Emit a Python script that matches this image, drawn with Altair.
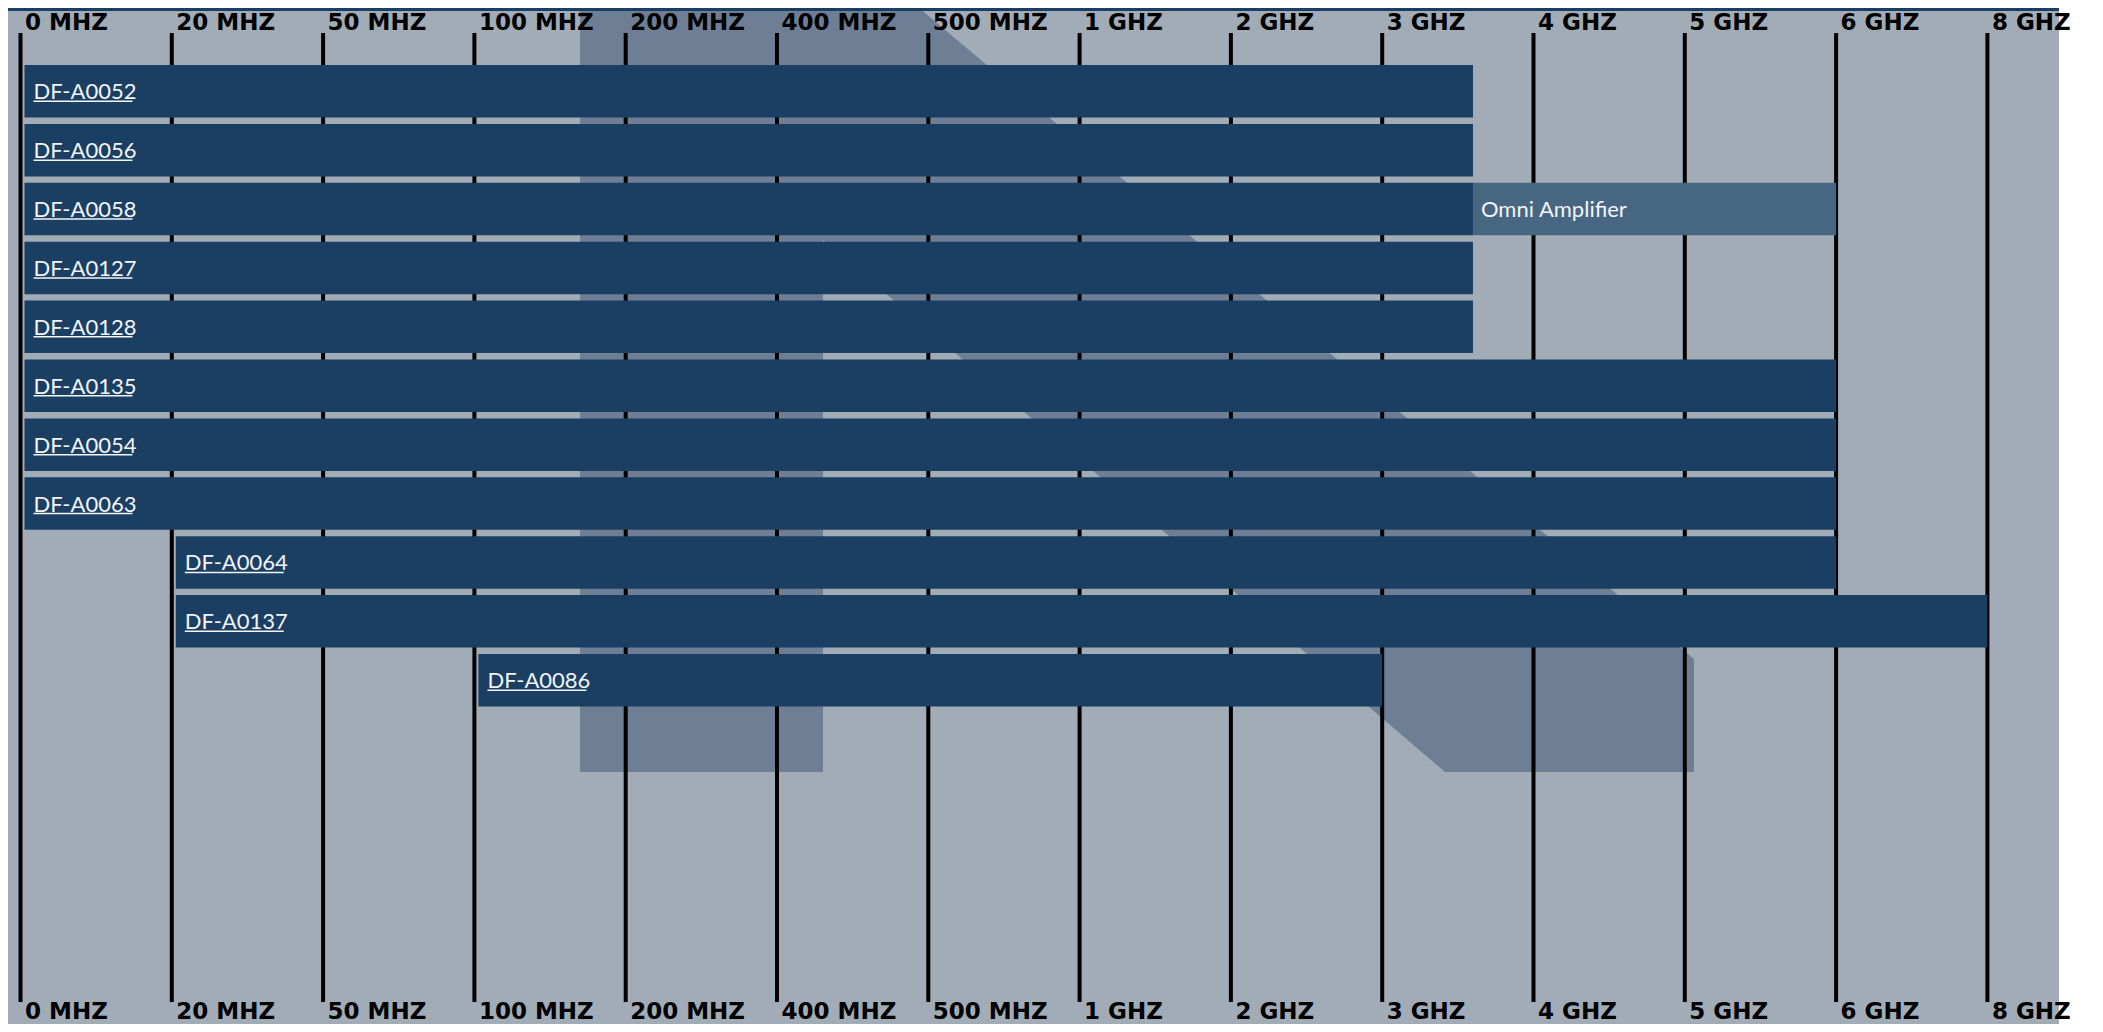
import altair as alt
import pandas as pd

# ---------------- data ----------------
FREQ_TICKS_MHZ = [0, 20, 50, 100, 200, 400, 500, 1000, 2000, 3000, 4000, 5000, 6000, 8000]
TICK_LABELS = ["0 MHZ", "20 MHZ", "50 MHZ", "100 MHZ", "200 MHZ", "400 MHZ", "500 MHZ",
               "1 GHZ", "2 GHZ", "3 GHZ", "4 GHZ", "5 GHZ", "6 GHZ", "8 GHZ"]

PRODUCTS = ["DF-A0052", "DF-A0056", "DF-A0058", "DF-A0127", "DF-A0128", "DF-A0135",
            "DF-A0054", "DF-A0063", "DF-A0064", "DF-A0137", "DF-A0086"]
START_MHZ = [0, 0, 0, 0, 0, 0, 0, 0, 20, 20, 100]
STOP_MHZ = [3600, 3600, 3600, 3600, 3600, 6000, 6000, 6000, 6000, 8000, 3000]

ADDON_PRODUCT = ["DF-A0058"]
ADDON_NAME = ["Omni Amplifier"]
ADDON_START_MHZ = [3600]
ADDON_STOP_MHZ = [6000]

# background logo watermark outline (plot pixels): x, top edge, bottom edge
LOGO_PART = ["stem", "stem", "band", "band", "band", "band"]
LOGO_X = [572, 815, 815, 911, 1437, 1686]
LOGO_TOP = [-25, -25, -25, -25, 417, 626]
LOGO_BOTTOM = [739, 739, 207, 289, 739, 739]

# ---------------- layout / style ----------------
W, H = 2051, 969
PAD_TOP, PAD_BOTTOM, PAD_RIGHT = 25, 22, 30
STEP = 151.3
X0 = 12.5
ROW0, ROW_STEP = 58.25, 58.9
ROW_FILL = 0.8913

NAVY = "#1b3f63"
OMNI = "#466682"
BG = "#a1acb7"
LOGO = "#6e7f95"
TXT = "#f2f4f7"

bars = pd.DataFrame({"product": PRODUCTS, "start": START_MHZ, "stop": STOP_MHZ,
                     "row": list(range(len(PRODUCTS)))})
addon = pd.DataFrame({"product": ADDON_PRODUCT, "name": ADDON_NAME,
                      "start": ADDON_START_MHZ, "stop": ADDON_STOP_MHZ})
addon["row"] = [PRODUCTS.index(p) for p in ADDON_PRODUCT]
ticks = pd.DataFrame({"mhz": FREQ_TICKS_MHZ, "label": TICK_LABELS})
logo = pd.DataFrame({"part": LOGO_PART, "lx": LOGO_X, "ty": LOGO_TOP, "by": LOGO_BOTTOM})

XS = alt.Scale(domain=FREQ_TICKS_MHZ, range=[X0 + STEP * i for i in range(len(FREQ_TICKS_MHZ))],
               zero=False, nice=False)
YS = alt.Scale(domain=[0, len(PRODUCTS) - 1],
               range=[ROW0, ROW0 + ROW_STEP * (len(PRODUCTS) - 1)], zero=False, nice=False)

labels_js = "[" + ",".join("'" + t + "'" for t in TICK_LABELS) + "]"
ticks_js = "[" + ",".join(str(v) for v in FREQ_TICKS_MHZ) + "]"
label_expr = labels_js + "[indexof(" + ticks_js + ", datum.value)]"


def freq_axis(orient, pad, baseline):
    return alt.Axis(orient=orient, values=FREQ_TICKS_MHZ, labelExpr=label_expr, grid=False,
                    ticks=False, tickSize=0, domain=False, labelAlign="left",
                    labelBaseline=baseline, labelPadding=pad, labelOffset=4,
                    labelFont="DejaVu Sans", labelFontSize=23, labelFontWeight="bold",
                    labelColor="black", labelFlush=False, labelOverlap=False,
                    labelBound=False, title=None, zindex=1)


def X(field, axis=None):
    return alt.X(field, scale=XS, axis=axis)


def Y(field):
    return alt.Y(field, scale=YS, axis=None)


wm = alt.Chart(logo).mark_area(color=LOGO).encode(
    x=alt.X("lx:Q", scale=alt.Scale(domain=[0, W], range=[0, W], zero=False, nice=False), axis=None),
    y=alt.Y("ty:Q", scale=alt.Scale(domain=[0, H], range=[0, H], zero=False, nice=False),
            axis=None, stack=None),
    y2="by:Q",
    detail="part:N",
)

grid = alt.Chart(ticks).mark_rule(color="black", strokeWidth=4).encode(
    x=X("mhz:Q", freq_axis("top", 4, "alphabetic")),
)

bar_layer = alt.Chart(bars).transform_calculate(
    y0=f"datum.row - {ROW_FILL / 2}", y1=f"datum.row + {ROW_FILL / 2}"
).mark_rect(color=NAVY, xOffset=4).encode(
    x=X("start:Q", freq_axis("bottom", 16, "alphabetic")),
    x2="stop:Q",
    y=Y("y0:Q"),
    y2="y1:Q",
)

addon_layer = alt.Chart(addon).transform_calculate(
    y0=f"datum.row - {ROW_FILL / 2}", y1=f"datum.row + {ROW_FILL / 2}"
).mark_rect(color=OMNI).encode(
    x=X("start:Q"), x2="stop:Q", y=Y("y0:Q"), y2="y1:Q",
)

bar_text = alt.Chart(bars).mark_text(
    align="left", baseline="alphabetic", dx=13, dy=8, font="Lato", fontSize=22, color=TXT
).encode(x=X("start:Q"), y=Y("row:Q"), text="product:N")

underline = alt.Chart(bars).mark_rule(
    color=TXT, strokeWidth=1.5, xOffset=13, x2Offset=112, yOffset=10
).encode(x=X("start:Q"), x2="start:Q", y=Y("row:Q"))

addon_text = alt.Chart(addon).mark_text(
    align="left", baseline="alphabetic", dx=8, dy=8, font="Lato", fontSize=22, color=TXT
).encode(x=X("start:Q"), y=Y("row:Q"), text="name:N")

one = pd.DataFrame({"k": [0]})
right_strip = alt.Chart(one).mark_rect(color="white").encode(
    x=alt.value(W), x2=alt.value(W + PAD_RIGHT), y=alt.value(-PAD_TOP), y2=alt.value(H + PAD_BOTTOM)
)
top_line = alt.Chart(one).mark_rect(color=NAVY).encode(
    x=alt.value(0), x2=alt.value(W), y=alt.value(-PAD_TOP), y2=alt.value(-PAD_TOP + 3)
)

inner = alt.layer(grid, bar_layer, addon_layer, bar_text, underline, addon_text,
                  right_strip, top_line).resolve_axis(x="independent")

chart = alt.layer(wm, inner).resolve_scale(x="independent", y="independent").properties(
    width=W, height=H,
    padding={"left": 0, "top": PAD_TOP, "right": PAD_RIGHT, "bottom": PAD_BOTTOM},
    autosize=alt.AutoSizeParams(type="none"),
    background=BG,
).configure_view(stroke=None)

chart.save("out.html", embed_options={"renderer": "svg", "actions": False})
